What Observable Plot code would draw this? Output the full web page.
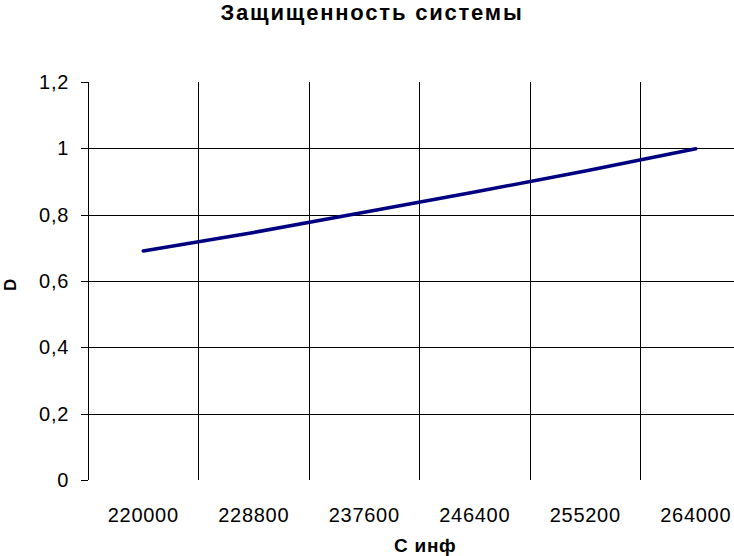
<!DOCTYPE html>
<html>
<head>
<meta charset="utf-8">
<script src="https://cdn.jsdelivr.net/npm/d3@7"></script>
<script src="https://cdn.jsdelivr.net/npm/@observablehq/plot@0.6"></script>
<style>
  html, body { margin: 0; padding: 0; background: white; }
  #wrap { position: relative; width: 734px; height: 556px; overflow: hidden; background: white; font-family: Arial, "Liberation Sans", sans-serif; }
  #title { position: absolute; left: 0; top: 1px; width: 744px; text-align: center; font-size: 22px; line-height: 24px; letter-spacing: 1.8px; font-weight: bold; color: black; }
  #chart { position: absolute; left: 0; top: 30px; width: 734px; height: 526px; overflow: hidden; }
</style>
</head>
<body>
<div id="wrap">
  <div id="title">Защищенность системы</div>
  <div id="chart"></div>
</div>
<script>
const categories = ["220000", "228800", "237600", "246400", "255200", "264000"];
const values = [0.692, 0.748, 0.809, 0.870, 0.933, 1.0];
const yTicks = [0, 0.2, 0.4, 0.6, 0.8, 1, 1.2];
const yGrid = [0.2, 0.4, 0.6, 0.8, 1];
const xLabel = "С инф";
const yLabel = "D";

const data = categories.map((c, i) => ({pos: i + 0.5, cat: c, d: values[i]}));
const boundaries = categories.map((c, i) => i + 1);

const chart = Plot.plot({
  width: 734,
  height: 526,
  marginTop: 52,
  marginBottom: 76,
  marginLeft: 87.5,
  marginRight: 0,
  style: {fontFamily: "Arial, 'Liberation Sans', sans-serif", fontSize: "20px", letterSpacing: "0.7px", color: "black", background: "white", overflow: "hidden"},
  x: {type: "linear", domain: [0, categories.length], range: [87.5, 750.5], label: null},
  y: {domain: [0, 1.2], label: null},
  marks: [
    Plot.ruleY(yGrid, {stroke: "black", strokeWidth: 1, shapeRendering: "crispEdges"}),
    Plot.ruleX(boundaries, {y1: 0, y2: 1.2, stroke: "black", strokeWidth: 1, shapeRendering: "crispEdges"}),
    Plot.ruleX([0], {y1: 0, y2: 1.2, stroke: "black", strokeWidth: 1, shapeRendering: "crispEdges"}),
    Plot.axisY({ticks: yTicks, tickFormat: d => String(d).replace(".", ","), tickSize: 7, tickPadding: 12, stroke: "black", strokeOpacity: 1, label: null, shapeRendering: "crispEdges"}),
    Plot.axisX({ticks: data.map(d => d.pos), tickFormat: d => categories[Math.floor(d)], tickSize: 0, tickPadding: 27, label: null}),
    Plot.line(data, {x: "pos", y: "d", stroke: "#000080", strokeWidth: 3.5, strokeLinecap: "round", strokeLinejoin: "round"}),
    Plot.text([yLabel], {frameAnchor: "left", dx: -77, dy: 3, rotate: -90, fontWeight: "bold", fontSize: 17, fill: "black", textAnchor: "middle"}),
    Plot.text([xLabel], {frameAnchor: "bottom", dx: 14, dy: 71, fontWeight: "bold", fontSize: 19, fill: "black", textAnchor: "middle", lineAnchor: "bottom"})
  ]
});
document.getElementById("chart").appendChild(chart);
</script>
</body>
</html>
